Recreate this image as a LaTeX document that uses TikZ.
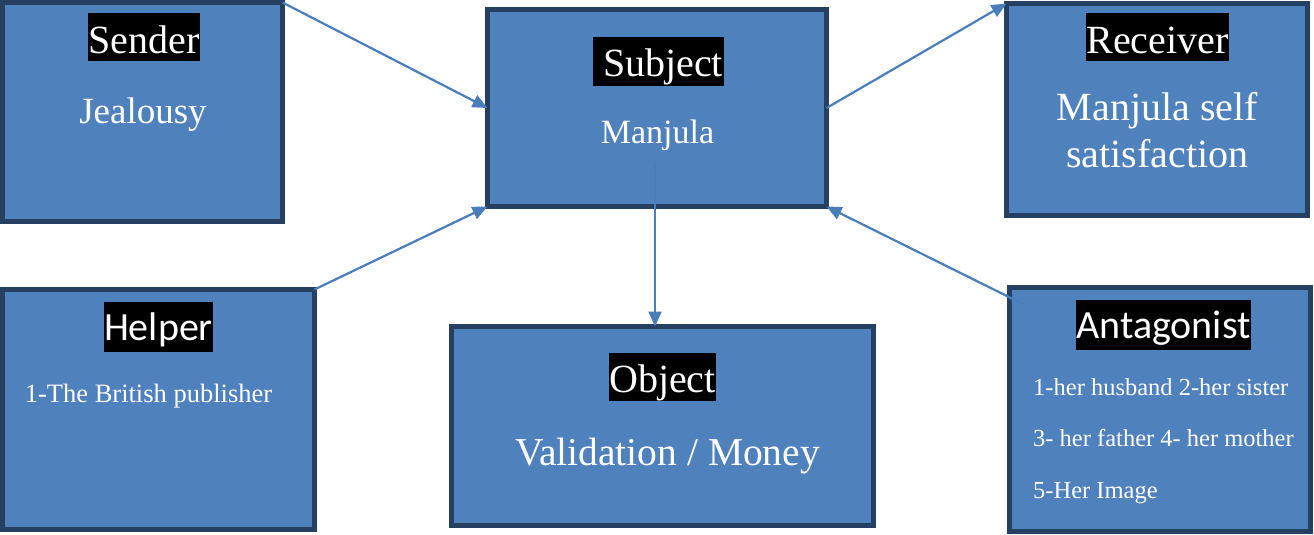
\documentclass[tikz,border=0pt]{standalone}
\usepackage{fontspec}
\setmainfont{Liberation Serif}
\newfontfamily\labelsans{Carlito}
\usetikzlibrary{arrows.meta}
\definecolor{boxblue}{RGB}{79,129,189}
\definecolor{boxedge}{RGB}{38,64,97}
\definecolor{arrowblue}{RGB}{74,126,187}
\tikzset{
        box/.style={draw=boxedge,fill=boxblue,line width=5pt,inner sep=0pt,outer sep=0pt},
        tag/.style={fill=black,text=white,inner xsep=0.5pt,inner ysep=1.5pt,text height=38pt,text depth=7pt,font=\fontsize{40}{46}\selectfont},
        tagsans/.style={tag,text height=37pt,text depth=10pt,font=\labelsans\fontsize{40}{46}\selectfont},
        body/.style={text=white,inner sep=0pt},
        link/.style={draw=arrowblue,line width=2.2pt,-{Triangle[length=15pt,width=13pt]}}
}

\begin{document}
\begin{tikzpicture}[x=1pt,y=-1pt]
        \useasboundingbox (0,0) rectangle (1314,535);
        \node[box,minimum width=280pt,minimum height=219pt] (sender) at (142.5,112) {};
        \node[box,minimum width=339pt,minimum height=197pt] (subject) at (657,108) {};
        \node[box,minimum width=301pt,minimum height=212pt] (receiver) at (1157,109.5) {};
        \node[box,minimum width=312pt,minimum height=240pt] (helper) at (158.5,409.5) {};
        \node[box,minimum width=422pt,minimum height=199pt] (object) at (662.5,426) {};
        \node[box,minimum width=301pt,minimum height=244pt] (antagonist) at (1160,409.5) {};
        \node[tag,anchor=base] (senderT) at (144,53) {Sender};
        \node[tag,anchor=base] (subjectT) at (658,77) {\ Subject};
        \node[tag,anchor=base] (receiverT) at (1157.5,53) {Receiver};
        \node[tagsans,anchor=base] (helperT) at (158.5,340) {Helper};
        \node[tag,anchor=base] (objectT) at (662.5,392) {Object};
        \node[tagsans,anchor=base] (antagonistT) at (1163.5,338) {Antagonist};
        \node[body,anchor=base,font=\fontsize{37}{44}\selectfont] (senderB) at (143,123) {Jealousy};
        \node[body,anchor=base,font=\fontsize{34}{40}\selectfont] (subjectB) at (657.5,143) {Manjula};
        \node[body,anchor=base,align=center,font=\fontsize{40}{47}\selectfont] (receiverB) at (1157.5,167) {Manjula self\\satisfaction};
        \node[body,anchor=base,font=\fontsize{26.5}{32}\selectfont] (helperB) at (148.5,402) {1-The British publisher};
        \node[body,anchor=base,font=\fontsize{39.5}{46}\selectfont] (objectB) at (667.5,465) {Validation / Money};
        \node[body,anchor=base west,align=left,font=\fontsize{24.5}{51.5}\selectfont] (antagonistB) at (1033,498) {1-her husband 2-her sister\\3- her father 4- her mother\\5-Her Image};
        \coordinate (a0) at (1025,305);
        \coordinate (s0) at (655,162);
        \draw[link] (sender.north east) -- (subject.west);
        \draw[link] (helper.north east) -- (subject.south west);
        \draw[link] (subject.east) -- (receiver.north west);
        \draw[link] (a0) -- (subject.south east);
        \draw[link] (s0) -- (s0 |- object.north);
\end{tikzpicture}
\end{document}
